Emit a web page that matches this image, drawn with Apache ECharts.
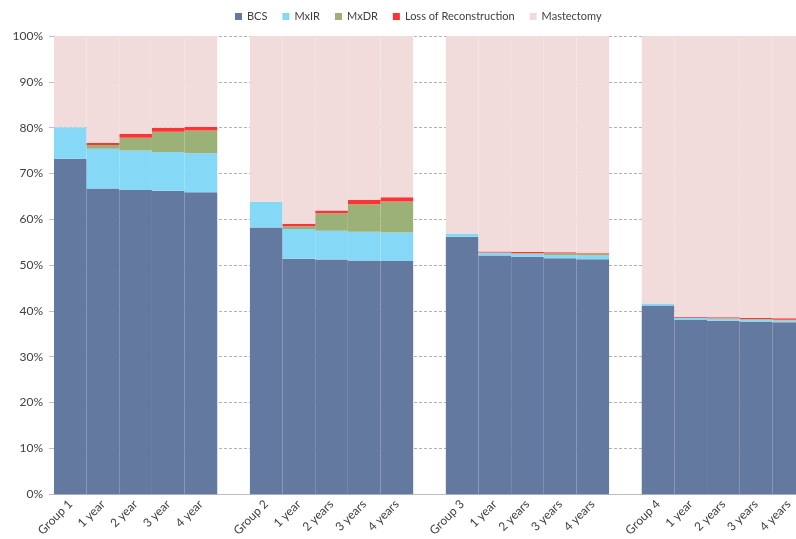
<!DOCTYPE html>
<html>
<head>
<meta charset="utf-8">
<script src="https://cdn.jsdelivr.net/npm/echarts@6/dist/echarts.min.js"></script>
<style>html,body{margin:0;padding:0;background:#fff;overflow:hidden}#c{width:805px;height:539px}</style>
</head>
<body>
<div id="c"></div>
<script>
var categories = ["Group 1","1 year","2 year","3 year","4 year","",
  "Group 2","1 year","2 years","3 years","4 years","",
  "Group 3","1 year","2 years","3 years","4 years","",
  "Group 4","1 year","2 years","3 years","4 years"];
var yTicks = [0,10,20,30,40,50,60,70,80,90,100];
var bcs  = [73.2,66.7,66.4,66.2,65.9,null, 58.2,51.4,51.2,51.0,50.9,null, 56.2,52.1,51.8,51.5,51.3,null, 41.2,38.0,37.85,37.6,37.5];
var mxir = [6.9,8.7,8.6,8.5,8.5,null, 5.6,6.5,6.3,6.3,6.2,null, 0.7,0.6,0.7,0.7,0.8,null, 0.4,0.5,0.45,0.45,0.4];
var mxdr = [0,0.8,2.8,4.4,5.0,null, 0,0.6,3.8,6.0,6.8,null, 0,0.05,0.1,0.4,0.3,null, 0,0,0.1,0.2,0.2];
var loss = [0,0.5,0.8,0.9,0.8,null, 0,0.5,0.6,0.9,0.9,null, 0,0.2,0.3,0.2,0.2,null, 0,0.15,0.2,0.2,0.3];
var mast = bcs.map(function(v,i){ return v===null?null:+(100-v-mxir[i]-mxdr[i]-loss[i]).toFixed(2); });

var font = "Lato,'Open Sans',sans-serif";
function s(name,data,color){
  return {name:name,type:'bar',stack:'a',data:data,barCategoryGap:'0%',
    itemStyle:{color:color},emphasis:{disabled:true}};
}
var chart = echarts.init(document.getElementById('c'));
chart.setOption({
  animation:false,
  textStyle:{fontFamily:font},
  legend:{top:6,left:230,icon:'rect',itemWidth:7,itemHeight:7,itemGap:15,itemTextGap:4,
    textStyle:{fontSize:11,color:'#404040',fontFamily:font},
    data:['BCS','MxIR','MxDR','Loss of Reconstruction','Mastectomy']},
  grid:{left:54,top:36,right:0,height:459,containLabel:false},
  xAxis:{type:'category',data:categories,
    axisLine:{lineStyle:{color:'#bfbfbf'}},
    axisTick:{length:4,lineStyle:{color:'#bfbfbf'}},
    axisLabel:{rotate:45,fontSize:12,color:'#404040',margin:8,interval:0,fontFamily:font}},
  yAxis:{type:'value',min:0,max:100,interval:10,
    axisLine:{show:true,lineStyle:{color:'#bfbfbf'}},
    axisTick:{show:true,inside:false,length:5,lineStyle:{color:'#bfbfbf'}},
    splitLine:{lineStyle:{color:'#b3b3b3',type:[3,2]}},
    axisLabel:{fontSize:12,color:'#404040',margin:11,fontFamily:font,
      formatter:function(v){ return yTicks.indexOf(v)>=0 ? v+'%' : ''; }}},
  series:[
    s('BCS',bcs,'#64799f'),
    s('MxIR',mxir,'#86d8f7'),
    s('MxDR',mxdr,'#9bb178'),
    s('Loss of Reconstruction',loss,'#ff3333'),
    s('Mastectomy',mast,'#f2dcdb')
  ]
});
</script>
</body>
</html>
